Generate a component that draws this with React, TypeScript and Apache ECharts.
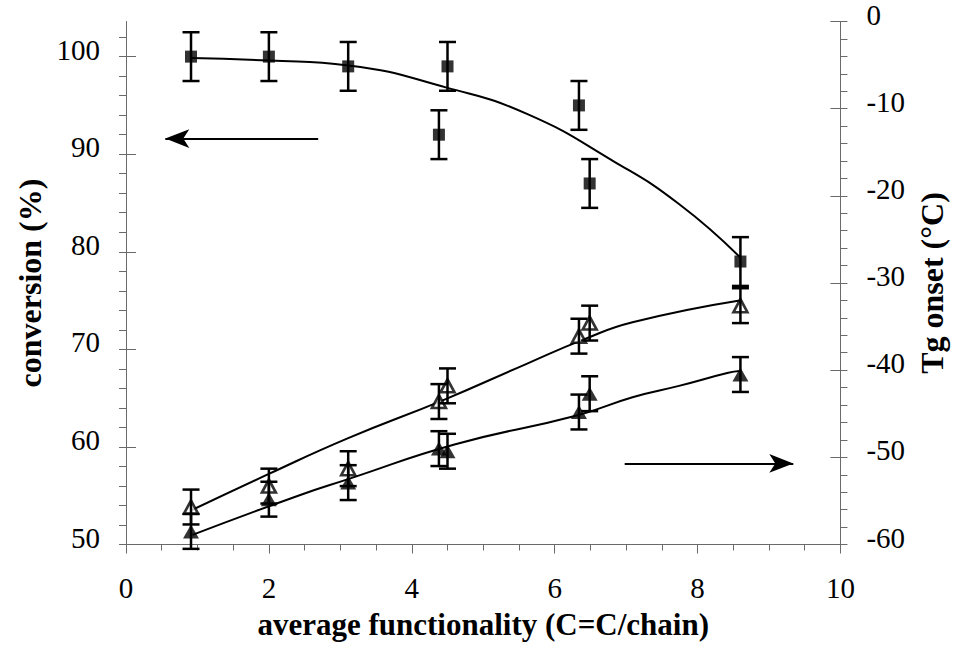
import React, { useEffect, useRef } from "react";
import * as echarts from "echarts";

// ---- data ----
const functionality = [0.91, 2.0, 3.11, 4.38, 4.5, 6.34, 6.49, 8.6];
const conversion = [100, 100, 99, 92, 99, 95, 87, 79];
const conversionErr = [2.5, 2.5, 2.5, 2.5, 2.5, 2.5, 2.5, 2.5];
const tgOpen = [-55.7, -53.3, -51.3, -43.6, -41.8, -36.1, -34.6, -32.6];
const tgOpenErr = [2, 2, 2, 2, 2, 2, 2, 2];
const tgFilled = [-58.5, -54.8, -52.9, -49.0, -49.3, -44.8, -42.7, -40.5];
const tgFilledErr = [2, 2, 2, 2, 2, 2, 2, 2];

// fitted curves
const conversionFitX = [0.91, 2.0, 3.11, 4.5, 5.62, 6.82, 7.74, 8.6];
const conversionFitY = [99.85, 99.6, 99.1, 96.8, 94.1, 89.3, 84.9, 79.4];
const tgOpenFitX = [0.91, 2.0, 3.11, 4.45, 5.6, 6.4, 7.09, 8.59];
const tgOpenFitY = [-56.1, -51.9, -47.8, -43.4, -39.3, -36.5, -34.5, -32.0];
const tgFilledFitX = [0.93, 2.41, 3.11, 4.61, 6.31, 7.09, 7.74, 8.43, 8.59];
const tgFilledFitY = [-58.9, -54.4, -52.5, -48.5, -45.2, -43.1, -41.8, -40.3, -40.1];

// tick values
const leftMajorTicks = [50, 60, 70, 80, 90, 100];
const leftMinorTicks = [50, 52, 54, 56, 58, 60, 62, 64, 66, 68, 70, 72, 74, 76, 78, 80, 82, 84, 86, 88, 90, 92, 94, 96, 98, 100, 102];
const rightMajorTicks = [-60, -50, -40, -30, -20, -10, 0];
const rightMinorTicks = [-60, -58, -56, -54, -52, -50, -48, -46, -44, -42, -40, -38, -36, -34, -32, -30, -28, -26, -24, -22, -20, -18, -16, -14, -12, -10, -8, -6, -4, -2, 0];
const xMajorTicks = [0, 2, 4, 6, 8, 10];
const xMinorTicks = [0, 0.5, 1, 1.5, 2, 2.5, 3, 3.5, 4, 4.5, 5, 5.5, 6, 6.5, 7, 7.5, 8, 8.5, 9, 9.5, 10];

// annotation arrows (data coordinates)
const leftArrow = { from: [2.69, 91.6], to: [0.55, 91.6] };
const rightArrow = { from: [6.98, -50.7], to: [9.34, -50.7] };

const FONT = "Liberation Serif";
const AXIS_COLOR = "#6a6a6a";

const zip = (a: number[], b: number[]) => a.map((v, i) => [v, b[i]]);
const zip3 = (a: number[], b: number[], c: number[]) => a.map((v, i) => [v, b[i], c[i]]);

const errorBarItem = (_params: any, api: any) => {
  const x = api.value(0);
  const y = api.value(1);
  const e = api.value(2);
  const top = api.coord([x, y + e]);
  const bot = api.coord([x, y - e]);
  const hw = 8.5;
  const style = { stroke: "#000", lineWidth: 2.5 };
  return {
    type: "group",
    children: [
      { type: "line", shape: { x1: top[0], y1: top[1], x2: bot[0], y2: bot[1] }, style },
      { type: "line", shape: { x1: top[0] - hw, y1: top[1], x2: top[0] + hw, y2: top[1] }, style },
      { type: "line", shape: { x1: bot[0] - hw, y1: bot[1], x2: bot[0] + hw, y2: bot[1] }, style },
    ],
  };
};

export default function App() {
  const ref = useRef<HTMLDivElement>(null);

  useEffect(() => {
    if (!ref.current) return;
    const chart = echarts.init(ref.current, undefined, { renderer: "svg" });

    const tickLabel = {
      color: "#000",
      fontFamily: FONT,
      fontSize: 29,
    };
    // labels sit slightly above their ticks, as in the reference
    const leftTickLabel = {
      formatter: "{t|{value}}",
      rich: { t: { color: "#000", fontFamily: FONT, fontSize: 29, width: 46, align: "right", padding: [0, 0, 14, 0] } },
    };
    const rightTickLabel = {
      formatter: "{t|{value}}",
      rich: { t: { color: "#000", fontFamily: FONT, fontSize: 29, width: 46, align: "left", padding: [0, 0, 14, 0] } },
    };

    const option: any = {
      animation: false,
      backgroundColor: "#fff",
      textStyle: { fontFamily: FONT },
      grid: { left: 126, right: 105, top: 20.7, bottom: 102.5, containLabel: false },
      xAxis: [
        {
          type: "value",
          position: "bottom",
          min: 0,
          max: 10,
          interval: 2,
          name: "average functionality (C=C/chain)",
          nameLocation: "middle",
          nameGap: 64,
          nameTextStyle: { fontFamily: FONT, fontWeight: "bold", fontSize: 31, color: "#000" },
          axisLine: { show: true, onZero: false, lineStyle: { color: AXIS_COLOR, width: 1 } },
          axisTick: { show: true, inside: false, length: 9, customValues: xMajorTicks, lineStyle: { color: AXIS_COLOR, width: 1 } },
          axisLabel: { ...tickLabel, margin: 29, customValues: xMajorTicks },
          splitLine: { show: false },
        },
        {
          type: "value",
          position: "bottom",
          min: 0,
          max: 10,
          interval: 0.5,
          axisLine: { show: false, onZero: false },
          axisTick: { show: true, inside: false, length: 6, customValues: xMinorTicks, lineStyle: { color: AXIS_COLOR, width: 1 } },
          axisLabel: { show: false },
          splitLine: { show: false },
        },
      ],
      yAxis: [
        {
          type: "value",
          position: "left",
          min: 50,
          max: 103.6,
          interval: 10,
          name: "conversion (%)",
          nameLocation: "middle",
          nameRotate: 90,
          nameGap: 79,
          nameTextStyle: { fontFamily: FONT, fontWeight: "bold", fontSize: 32, color: "#000" },
          axisLine: { show: true, onZero: false, lineStyle: { color: AXIS_COLOR, width: 1 } },
          axisTick: { show: true, inside: false, length: 7, customValues: leftMinorTicks, lineStyle: { color: AXIS_COLOR, width: 1 } },
          axisLabel: { ...leftTickLabel, margin: 26, customValues: leftMajorTicks },
          splitLine: { show: false },
        },
        {
          type: "value",
          position: "right",
          min: -60,
          max: 0,
          interval: 10,
          name: "Tg onset (°C)",
          nameLocation: "middle",
          nameRotate: 90,
          nameGap: 70,
          nameTextStyle: { fontFamily: FONT, fontWeight: "bold", fontSize: 32, color: "#000" },
          axisLine: { show: true, onZero: false, lineStyle: { color: AXIS_COLOR, width: 1 } },
          axisTick: { show: true, inside: false, length: 7, customValues: rightMinorTicks, lineStyle: { color: AXIS_COLOR, width: 1 } },
          axisLabel: { ...rightTickLabel, margin: 26, customValues: rightMajorTicks },
          splitLine: { show: false },
        },
        {
          type: "value",
          position: "left",
          min: 50,
          max: 103.6,
          interval: 10,
          axisLine: { show: false, onZero: false },
          axisTick: { show: true, inside: true, length: 10, customValues: leftMajorTicks, lineStyle: { color: AXIS_COLOR, width: 1 } },
          axisLabel: { show: false },
          splitLine: { show: false },
        },
        {
          type: "value",
          position: "right",
          min: -60,
          max: 0,
          interval: 10,
          axisLine: { show: false, onZero: false },
          axisTick: { show: true, inside: true, length: 10, customValues: rightMajorTicks, lineStyle: { color: AXIS_COLOR, width: 1 } },
          axisLabel: { show: false },
          splitLine: { show: false },
        },
      ],
      series: [
        {
          name: "conversion fit",
          type: "line",
          xAxisIndex: 0,
          yAxisIndex: 0,
          data: zip(conversionFitX, conversionFitY),
          smooth: 0.5,
          showSymbol: false,
          silent: true,
          lineStyle: { color: "#000", width: 2 },
          z: 2,
          markLine: {
            silent: true,
            symbol: ["none", "arrow"],
            symbolSize: [14, 24],
            label: { show: false },
            lineStyle: { color: "#000", width: 2, type: "solid" },
            data: [[{ coord: leftArrow.from }, { coord: leftArrow.to }]],
          },
        },
        {
          name: "Tg open fit",
          type: "line",
          xAxisIndex: 0,
          yAxisIndex: 1,
          data: zip(tgOpenFitX, tgOpenFitY),
          smooth: 0.5,
          showSymbol: false,
          silent: true,
          lineStyle: { color: "#000", width: 2 },
          z: 2,
        },
        {
          name: "Tg filled fit",
          type: "line",
          xAxisIndex: 0,
          yAxisIndex: 1,
          data: zip(tgFilledFitX, tgFilledFitY),
          smooth: 0.5,
          showSymbol: false,
          silent: true,
          lineStyle: { color: "#000", width: 2 },
          z: 2,
          markLine: {
            silent: true,
            symbol: ["none", "arrow"],
            symbolSize: [14, 24],
            label: { show: false },
            lineStyle: { color: "#000", width: 2, type: "solid" },
            data: [[{ coord: rightArrow.from }, { coord: rightArrow.to }]],
          },
        },
        {
          name: "conversion",
          type: "scatter",
          xAxisIndex: 0,
          yAxisIndex: 0,
          data: zip(functionality, conversion),
          symbol: "rect",
          symbolSize: 12,
          itemStyle: { color: "#000" },
          z: 3,
        },
        {
          name: "Tg open",
          type: "scatter",
          xAxisIndex: 0,
          yAxisIndex: 1,
          data: zip(functionality, tgOpen),
          symbol: "triangle",
          symbolSize: [14, 13],
          itemStyle: { color: "#fff", borderColor: "#000", borderWidth: 2.6 },
          z: 3,
        },
        {
          name: "Tg filled",
          type: "scatter",
          xAxisIndex: 0,
          yAxisIndex: 1,
          data: zip(functionality, tgFilled),
          symbol: "triangle",
          symbolSize: [16, 14],
          itemStyle: { color: "#000" },
          z: 3,
        },
        {
          name: "conversion error",
          type: "custom",
          xAxisIndex: 0,
          yAxisIndex: 0,
          data: zip3(functionality, conversion, conversionErr),
          renderItem: errorBarItem,
          encode: { x: 0, y: [1, 2] },
          silent: true,
          z: 4,
        },
        {
          name: "Tg open error",
          type: "custom",
          xAxisIndex: 0,
          yAxisIndex: 1,
          data: zip3(functionality, tgOpen, tgOpenErr),
          renderItem: errorBarItem,
          encode: { x: 0, y: [1, 2] },
          silent: true,
          z: 4,
        },
        {
          name: "Tg filled error",
          type: "custom",
          xAxisIndex: 0,
          yAxisIndex: 1,
          data: zip3(functionality, tgFilled, tgFilledErr),
          renderItem: errorBarItem,
          encode: { x: 0, y: [1, 2] },
          silent: true,
          z: 4,
        },
      ],
    };

    chart.setOption(option);
    return () => chart.dispose();
  }, []);

  return (
    <div
      ref={ref}
      style={{ position: "absolute", left: 0, top: 0, width: 956, height: 647, background: "#fff" }}
    />
  );
}
